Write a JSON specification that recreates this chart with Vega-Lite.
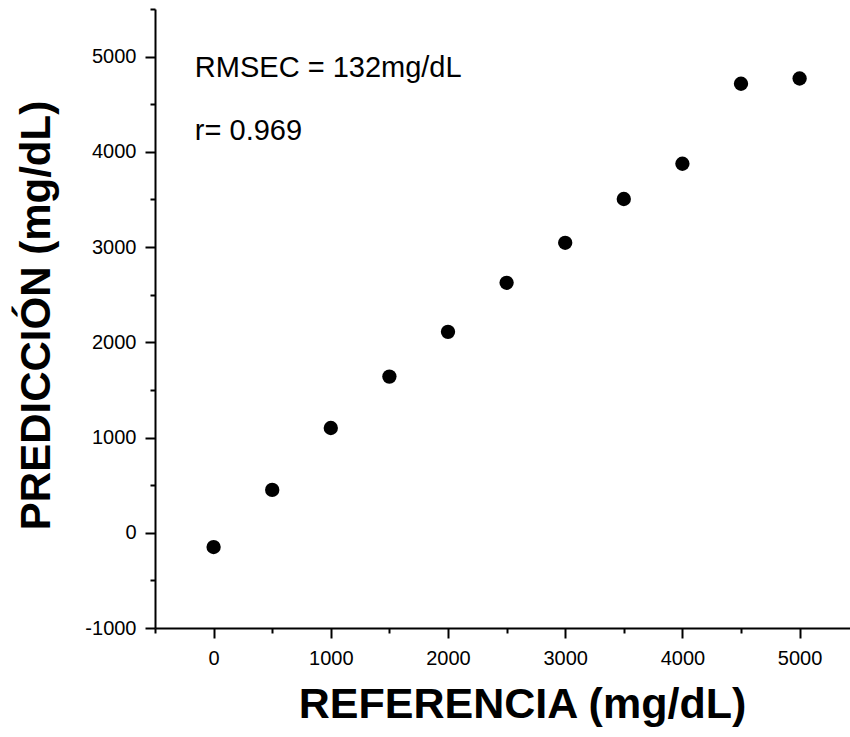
{
  "$schema": "https://vega.github.io/schema/vega-lite/v6.json",
  "autosize": {"type": "none"},
  "padding": {"left": 155, "top": 9, "right": 0, "bottom": 109},
  "width": 695,
  "height": 619,
  "background": "white",
  "config": {
    "view": {"stroke": null},
    "font": "Liberation Sans",
    "axis": {
      "domainColor": "black",
      "domainWidth": 2,
      "tickColor": "black",
      "tickWidth": 2,
      "grid": false,
      "labelFont": "Liberation Sans",
      "labelFontSize": 20,
      "labelColor": "black",
      "titleFont": "Liberation Sans",
      "titleFontWeight": "bold",
      "titleFontSize": 43,
      "titleColor": "black"
    }
  },
  "layer": [
    {
      "data": {
        "values": [
          {"referencia": 0, "prediccion": -150},
          {"referencia": 500, "prediccion": 450},
          {"referencia": 1000, "prediccion": 1100},
          {"referencia": 1500, "prediccion": 1640},
          {"referencia": 2000, "prediccion": 2110},
          {"referencia": 2500, "prediccion": 2625},
          {"referencia": 3000, "prediccion": 3045},
          {"referencia": 3500, "prediccion": 3505},
          {"referencia": 4000, "prediccion": 3875},
          {"referencia": 4500, "prediccion": 4715},
          {"referencia": 5000, "prediccion": 4770}
        ]
      },
      "mark": {"type": "circle", "size": 205, "color": "black", "opacity": 1},
      "encoding": {
        "x": {
          "field": "referencia",
          "type": "quantitative",
          "scale": {"domain": [-500, 5430], "nice": false, "zero": false},
          "axis": {
            "title": "REFERENCIA (mg/dL)",
            "values": [-500, 0, 500, 1000, 1500, 2000, 2500, 3000, 3500, 4000, 4500, 5000],
            "labelExpr": "datum.value % 1000 === 0 ? '' + datum.value : ''",
            "tickSize": {"condition": {"test": "datum.value % 1000 === 0", "value": 10}, "value": 5},
            "labelPadding": 10,
            "titleX": 367,
            "titleY": 89,
            "titleBaseline": "alphabetic",
            "titleAnchor": "middle",
            "titleAlign": "center"
          }
        },
        "y": {
          "field": "prediccion",
          "type": "quantitative",
          "scale": {"domain": [-1000, 5500], "nice": false, "zero": false},
          "axis": {
            "title": "PREDICCIÓN (mg/dL)",
            "values": [-1000, -500, 0, 500, 1000, 1500, 2000, 2500, 3000, 3500, 4000, 4500, 5000, 5500],
            "labelExpr": "datum.value % 1000 === 0 && datum.value <= 5000 ? '' + datum.value : ''",
            "tickSize": {"condition": {"test": "datum.value % 1000 === 0", "value": 10}, "value": 5},
            "labelPadding": 9,
            "titleX": -106,
            "titleY": 306,
            "titleAngle": 270,
            "titleFontSize": 42,
            "titleBaseline": "alphabetic",
            "titleAlign": "center"
          }
        }
      }
    },
    {
      "data": {
        "values": [
          {"referencia": -160, "prediccion": 4790, "label": "RMSEC = 132mg/dL"},
          {"referencia": -160, "prediccion": 4125, "label": "r= 0.969"}
        ]
      },
      "mark": {"type": "text", "align": "left", "baseline": "alphabetic", "fontSize": 29, "font": "Liberation Sans", "color": "black"},
      "encoding": {
        "x": {"field": "referencia", "type": "quantitative"},
        "y": {"field": "prediccion", "type": "quantitative"},
        "text": {"field": "label"}
      }
    }
  ]
}
